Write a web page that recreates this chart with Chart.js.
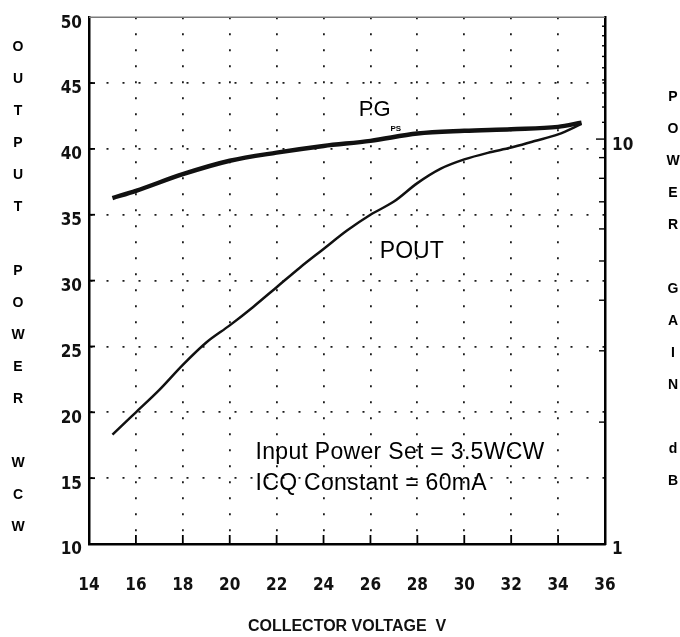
<!DOCTYPE html>
<html>
<head>
<meta charset="utf-8">
<script src="https://cdn.jsdelivr.net/npm/chart.js@4.4.1/dist/chart.umd.min.js"></script>
<style>
  html, body { margin: 0; padding: 0; background: #fff; }
  #wrap { width: 680px; height: 637px; }
</style>
</head>
<body>
<div id="wrap"><canvas id="gainChart" width="680" height="637"></canvas></div>
<script>
// output power curve (W CW) against collector voltage (V)
const voltsOut = [15, 16, 17, 18, 19, 20, 21, 22, 23, 24, 25, 26, 27, 28, 29, 30, 31, 32, 33, 34, 35];
const powerOut = [18.3, 20.0, 21.7, 23.6, 25.3, 26.6, 28.0, 29.5, 31.0, 32.4, 33.8, 35.0, 36.0, 37.4, 38.5, 39.2, 39.7, 40.1, 40.6, 41.1, 41.9];

// power gain curve (dB, right log axis) against collector voltage (V)
const voltsGain = [15, 16, 18, 20, 22, 24, 26, 28, 30, 32, 34, 35];
const powerGain = [7.15, 7.45, 8.19, 8.84, 9.26, 9.62, 9.90, 10.32, 10.48, 10.58, 10.72, 10.98];

const xTicks = [14, 16, 18, 20, 22, 24, 26, 28, 30, 32, 34, 36];
const leftTicks = [10, 15, 20, 25, 30, 35, 40, 45, 50];
const rightTicks = [1, 2, 3, 4, 5, 6, 7, 8, 9, 10, 11, 12, 13, 14, 15, 16, 17, 18, 19, 20];
const rightLabels = [1, 10];

const leftTitle = 'OUTPUT POWER WCW';
const rightTitle = 'POWER GAIN dB';

const tickFont = { family: '"Liberation Sans Narrow", "DejaVu Sans Condensed", Arial, sans-serif', size: 17, weight: 'bold' };
const ink = '#111';

function edgeColor(lo, hi) {
  return c => (c.tick && (c.tick.value <= lo || c.tick.value >= hi)) ? 'rgba(0,0,0,0)' : '#1a1a1a';
}

const extras = {
  id: 'extras',
  afterDraw(chart) {
    const { ctx, chartArea: a, scales } = chart;
    const line = (x1, y1, x2, y2) => { ctx.beginPath(); ctx.moveTo(x1, y1); ctx.lineTo(x2, y2); ctx.stroke(); };
    ctx.save();

    // thin grey top edge
    ctx.strokeStyle = '#7a7a7a';
    ctx.lineWidth = 1.5;
    line(a.left, a.top, a.right, a.top);

    // tick marks pointing into the plot
    ctx.strokeStyle = '#000';
    ctx.lineWidth = 1.8;
    scales.x.ticks.forEach(t => {
      if (t.value <= 14 || t.value >= 36) return;
      const px = scales.x.getPixelForValue(t.value);
      line(px, a.bottom, px, a.bottom - 9);
    });
    scales.y.ticks.forEach(t => {
      if (t.value <= 10 || t.value >= 50) return;
      const py = scales.y.getPixelForValue(t.value);
      line(a.left, py, a.left + 6, py);
    });
    ctx.lineWidth = 1.4;
    scales.y1.ticks.forEach(t => {
      if (t.value <= 1 || t.value >= 20) return;
      const py = scales.y1.getPixelForValue(t.value);
      const len = t.value === 10 ? 9 : (t.value < 10 ? 6 : 3);
      line(a.right, py, a.right - len, py);
    });

    // stacked letter axis titles
    ctx.fillStyle = '#000';
    ctx.font = 'bold 14px "Liberation Sans", Arial, sans-serif';
    ctx.textAlign = 'center';
    ctx.textBaseline = 'middle';
    [...leftTitle].forEach((ch, i) => ctx.fillText(ch, 18, 47 + i * 32));
    [...rightTitle].forEach((ch, i) => ctx.fillText(ch, 673, 97 + i * 32));

    // curve labels and notes, placed in data units
    const X = v => scales.x.getPixelForValue(v);
    const Y = v => scales.y.getPixelForValue(v);
    ctx.textAlign = 'left';
    ctx.font = '22px "Liberation Sans", Arial, sans-serif';
    ctx.fillText('PG', X(25.5), Y(42.95));
    ctx.font = 'bold 8px "Liberation Sans", Arial, sans-serif';
    ctx.fillText('PS', X(26.85), Y(41.5));
    ctx.font = '23px "Liberation Sans", Arial, sans-serif';
    ctx.fillText('POUT', X(26.4), Y(32.2));
    ctx.font = '23px "Liberation Sans", Arial, sans-serif';
    ctx.letterSpacing = '0.3px';
    ctx.fillText('Input Power Set = 3.5WCW', X(21.1), Y(16.9));
    ctx.fillText('ICQ Constant = 60mA', X(21.1), Y(14.55));
    ctx.restore();
  }
};

new Chart(document.getElementById('gainChart'), {
  type: 'line',
  data: {
    datasets: [
      {
        label: 'POUT',
        data: voltsOut.map((v, i) => ({ x: v, y: powerOut[i] })),
        yAxisID: 'y',
        borderColor: ink,
        borderWidth: 2.5,
        pointRadius: 0,
        tension: 0.4,
        cubicInterpolationMode: 'monotone'
      },
      {
        label: 'PG',
        data: voltsGain.map((v, i) => ({ x: v, y: powerGain[i] })),
        yAxisID: 'y1',
        borderColor: ink,
        borderWidth: 4.5,
        pointRadius: 0,
        tension: 0.4,
        cubicInterpolationMode: 'monotone'
      }
    ]
  },
  options: {
    responsive: false,
    animation: false,
    layout: { padding: { top: 16, left: 0, right: 0, bottom: 0 } },
    plugins: { legend: { display: false }, tooltip: { enabled: false } },
    scales: {
      x: {
        type: 'linear',
        min: 14,
        max: 36,
        afterBuildTicks: s => { s.ticks = xTicks.map(v => ({ value: v })); },
        afterFit: s => { s.height = 93; },
        ticks: { font: tickFont, color: ink, padding: 31, maxRotation: 0, autoSkip: false },
        grid: { color: edgeColor(14, 36), lineWidth: 1.8, drawTicks: false },
        border: { display: true, color: '#000', width: 2.5, dash: [2, 14] }
      ,
        title: {
          display: true,
          text: 'COLLECTOR VOLTAGE  V',
          color: ink,
          font: { family: '"Liberation Sans", Arial, sans-serif', size: 16, weight: 'bold' },
          padding: { top: 0, bottom: 1 }
        }
      },
      y: {
        position: 'left',
        min: 10,
        max: 50,
        afterBuildTicks: s => { s.ticks = leftTicks.map(v => ({ value: v })); },
        afterFit: s => { s.width = 89; },
        ticks: { font: tickFont, color: ink, padding: 7, labelOffset: 6, autoSkip: false },
        grid: { color: edgeColor(10, 50), lineWidth: 1.8, drawTicks: false },
        border: { display: true, color: '#000', width: 2.5, dash: [2, 14] }
      },
      y1: {
        type: 'logarithmic',
        position: 'right',
        min: 1,
        max: 20,
        afterBuildTicks: s => { s.ticks = rightTicks.map(v => ({ value: v })); },
        afterFit: s => { s.width = 75; },
        ticks: {
          font: tickFont,
          color: ink,
          padding: 7,
          labelOffset: 6,
          autoSkip: false,
          callback: v => rightLabels.includes(v) ? String(v) : ''
        },
        grid: { display: false, drawTicks: false },
        border: { display: true, color: '#000', width: 2.5 }
      }
    }
  },
  plugins: [extras]
});
</script>
</body>
</html>
